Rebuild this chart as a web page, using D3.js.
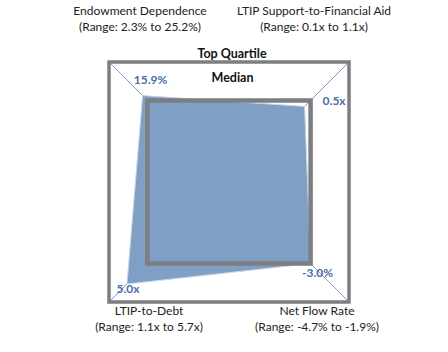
<!DOCTYPE html>
<html>
<head>
<meta charset="utf-8">
<script src="https://cdn.jsdelivr.net/npm/d3@7"></script>
<style>
  html, body { margin: 0; padding: 0; background: #fff; }
  svg { display: block; font-family: Lato, "Open Sans", sans-serif; }
</style>
</head>
<body>
<svg id="chart" width="448" height="352"></svg>
<script>
// ---- data ----
const metrics = ["Endowment Dependence", "LTIP Support-to-Financial Aid", "Net Flow Rate", "LTIP-to-Debt"];
const ranges = ["(Range: 2.3% to 25.2%)", "(Range: 0.1x to 1.1x)", "(Range: -4.7% to -1.9%)", "(Range: 1.1x to 5.7x)"];
const valueLabels = ["15.9%", "0.5x", "-3.0%", "5.0x"];
// relative position on each axis (0 = centre, 1 = top quartile)
const scores = [0.72, 0.63, 0.68, 0.85];
const medianScore = 0.68;
const topQuartileScore = 1.0;
const ringLabels = ["Top Quartile", "Median"];

// ---- layout ----
const svg = d3.select("#chart");
const cx = 229, cy = 182, half = 120;
const r = d3.scaleLinear().domain([0, 1]).range([0, half * Math.SQRT2]);
const angles = [-Math.PI / 4, Math.PI / 4, 3 * Math.PI / 4, 5 * Math.PI / 4];
const pt = (a, rad) => [cx + rad * Math.sin(a), cy - rad * Math.cos(a)];

const g = svg.append("g");

// diagonal spokes
angles.forEach(a => {
  const [x, y] = pt(a, r(topQuartileScore));
  g.append("line")
    .attr("x1", cx).attr("y1", cy).attr("x2", x).attr("y2", y)
    .attr("stroke", "#7b9ccc").attr("stroke-width", 1);
});

// data polygon
const radial = d3.lineRadial()
  .angle((d, i) => angles[i])
  .radius(d => r(d))
  .curve(d3.curveLinearClosed);
g.append("path")
  .attr("d", radial(scores))
  .attr("transform", `translate(${cx},${cy})`)
  .attr("fill", "#809fc5")
  .attr("stroke", "#c9d6e8")
  .attr("stroke-width", 1);

// squares (top quartile and median)
[topQuartileScore, medianScore].forEach((s, k) => {
  const corners = angles.map(a => pt(a, r(s)));
  g.append("polygon")
    .attr("points", corners.map(c => c.join(",")).join(" "))
    .attr("fill", "none")
    .attr("stroke", "#7c7e82")
    .attr("stroke-width", k === 0 ? 3.5 : 4.5);
});

// ring labels
const outerTop = cy - half;
const innerTop = cy - half * medianScore;
svg.append("text").attr("x", 232).attr("y", outerTop - 4)
  .attr("text-anchor", "middle").attr("font-weight", "bold").attr("font-size", 12.5)
  .attr("fill", "#111").text(ringLabels[0]);
svg.append("text").attr("x", 232.5).attr("y", (outerTop + innerTop) / 2 + 1)
  .attr("text-anchor", "middle").attr("font-weight", "bold").attr("font-size", 12.5)
  .attr("fill", "#111").text(ringLabels[1]);

// value labels
const valOffsets = [[8, -12, "middle"], [18, -1, "start"], [7, 13, "middle"], [1, 9, "middle"]];
valueLabels.forEach((lab, i) => {
  const [x, y] = pt(angles[i], r(scores[i]));
  svg.append("text")
    .attr("x", x + valOffsets[i][0]).attr("y", y + valOffsets[i][1])
    .attr("text-anchor", valOffsets[i][2])
    .attr("font-weight", "bold").attr("font-size", 12)
    .attr("fill", "#4a6ea6").text(lab);
});

// axis titles
const titlePos = [[140, 15], [314, 15], [317, 315], [149, 315]];
metrics.forEach((m, i) => {
  const t = svg.append("text")
    .attr("x", titlePos[i][0]).attr("y", titlePos[i][1])
    .attr("text-anchor", "middle").attr("font-size", 12).attr("fill", "#222");
  t.append("tspan").attr("x", titlePos[i][0]).text(m);
  t.append("tspan").attr("x", titlePos[i][0]).attr("dy", 16).text(ranges[i]);
});
</script>
</body>
</html>
